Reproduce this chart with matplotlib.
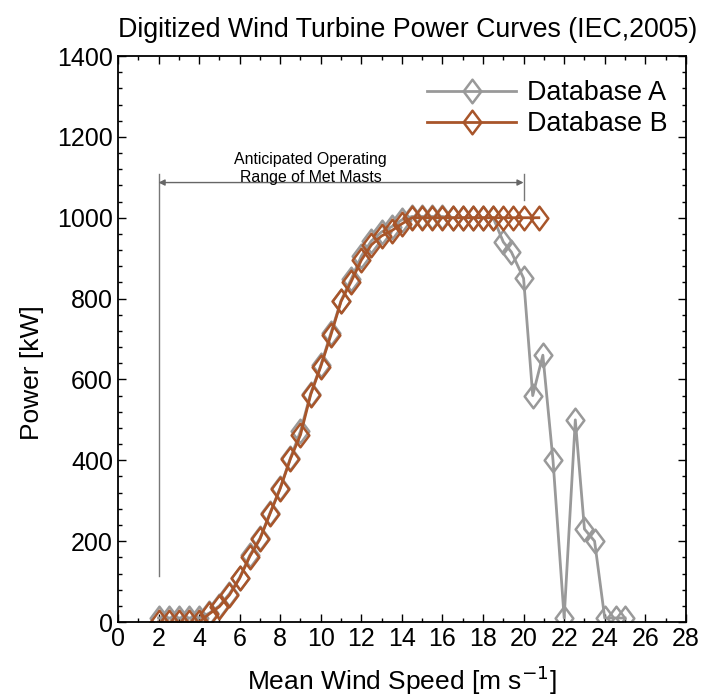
import matplotlib
matplotlib.use("Agg")
import matplotlib.pyplot as plt
from matplotlib.ticker import MultipleLocator
from matplotlib.path import Path

plt.rcParams['font.family'] = ['Liberation Sans', 'DejaVu Sans']

# Database A (gray)
speed_a = [2, 2.5, 3, 3.5, 4, 4.5, 5, 5.5, 6, 6.5, 7, 7.5, 8, 8.5, 9, 9.5, 10, 10.5,
           11, 11.5, 12, 12.5, 13, 13.5, 14, 14.5, 15, 15.5, 16, 16.5, 17, 17.5, 18, 18.5,
           19, 19.4, 20, 20.45, 20.95, 21.45, 22, 22.55, 23, 23.5, 24, 24.55, 25]
power_a = [10, 10, 10, 10, 10, 22, 40, 70, 110, 165, 207, 270, 332, 405, 472, 565, 635, 715,
           795, 848, 905, 943, 965, 978, 995, 1003, 1003, 1003, 1003, 1000, 1000, 1000, 1000, 1000,
           940, 915, 850, 560, 660, 400, 10, 500, 230, 200, 10, 10, 10]

# Database B (brown)
speed_b = [2, 2.5, 3, 3.5, 4, 4.5, 5, 5.5, 6, 6.5, 7, 7.5, 8, 8.5, 9, 9.5, 10, 10.5,
           11, 11.5, 12, 12.5, 13, 13.5, 14, 14.5, 15, 15.5, 16, 16.5, 17, 17.5, 18, 18.5,
           19, 19.5, 20, 20.75]
power_b = [0, 0, 0, 0, 0, 20, 38, 67, 108, 162, 205, 268, 330, 403, 463, 562, 632, 710,
           793, 842, 895, 933, 955, 968, 985, 1000, 1000, 1000, 1000, 1000, 1000, 1000, 1000, 1000,
           1000, 1000, 1000, 1000]

labels = ["Database A", "Database B"]
colors = ["#999999", "#A8552A"]

diamond = Path([(0, -1), (0.75, 0), (0, 1), (-0.75, 0), (0, -1)],
               [Path.MOVETO, Path.LINETO, Path.LINETO, Path.LINETO, Path.CLOSEPOLY])

fig = plt.figure(figsize=(7.02, 7.0), dpi=100)
ax = fig.add_axes([0.168, 0.1114, 0.809, 0.8086])

ax.plot(speed_a, power_a, color=colors[0], lw=2, marker=diamond, ms=17, mfc='none',
        mec=colors[0], mew=1.8, label=labels[0])
ax.plot(speed_b, power_b, color=colors[1], lw=2, marker=diamond, ms=17, mfc='none',
        mec=colors[1], mew=1.8, label=labels[1])

ax.set_xlim(0, 28)
ax.set_ylim(0, 1400)
ax.xaxis.set_major_locator(MultipleLocator(2))
ax.xaxis.set_minor_locator(MultipleLocator(1))
ax.yaxis.set_major_locator(MultipleLocator(200))
ax.yaxis.set_minor_locator(MultipleLocator(40))
ax.tick_params(which='both', direction='in', top=True, right=True, labelsize=18)
ax.tick_params(which='major', length=6, width=1)
ax.tick_params(which='minor', length=3, width=1)
for s in ax.spines.values():
    s.set_linewidth(1.3)

ax.set_xlabel("Mean Wind Speed [m s$^{-1}$]", fontsize=19, labelpad=9)
ax.set_ylabel("Power [kW]", fontsize=19)
ax.yaxis.set_label_coords(-0.13, 0.44)
ax.set_title("Digitized Wind Turbine Power Curves (IEC,2005)", fontsize=19.3, pad=14, x=0.51)

# operating range annotation
ax.plot([2, 2], [114, 1109], color='#777777', lw=1)
ax.plot([20, 20], [1043, 1109], color='#777777', lw=1)
ax.annotate('', xy=(2, 1087), xytext=(20, 1087),
            arrowprops=dict(arrowstyle='<|-|>', color='#666666', lw=1, mutation_scale=9,
                            shrinkA=0, shrinkB=0))
ax.text(9.5, 1122, "Anticipated Operating\nRange of Met Masts", ha='center', va='center',
        fontsize=11.4, linespacing=1.2)

ax.legend(loc='upper right', bbox_to_anchor=(0.996, 0.986), frameon=False, fontsize=19.4,
          handlelength=3.3, borderaxespad=0.2, labelspacing=0.2, handletextpad=0.4)

fig.savefig("out.png", dpi=100)
